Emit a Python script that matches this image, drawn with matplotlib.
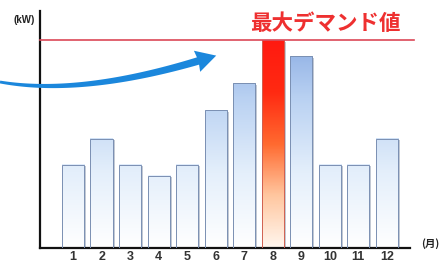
import matplotlib
matplotlib.use("Agg")
import matplotlib.pyplot as plt
import numpy as np
from matplotlib.patches import Rectangle, Polygon
from matplotlib.colors import LinearSegmentedColormap

plt.rcParams["font.family"] = ["Noto Sans CJK JP", "DejaVu Sans"]

# ── data (kW, arbitrary units) ───────────────────────────────────────────────
months = [1, 2, 3, 4, 5, 6, 7, 8, 9, 10, 11, 12]
month_labels = ["1", "2", "3", "4", "5", "6", "7", "8", "9", "10", "11", "12"]
demand = [83, 109, 83, 72, 83, 137, 164, 207, 191, 83, 83, 109]
peak_month = 8
peak_value = 207
y_max = 236

W, H = 448, 263
fig = plt.figure(figsize=(W / 100, H / 100), dpi=100)
ax = fig.add_axes([40 / W, 1 - 248 / H, 370 / W, 237 / H])
ax.set_xlim(-0.16, 12.81)
ax.set_ylim(0, y_max)

blue_cmap = LinearSegmentedColormap.from_list(
    "b", ["#ffffff", "#e4effb", "#b9d1f2", "#7fa3df"])
red_cmap = LinearSegmentedColormap.from_list(
    "r", ["#fff6ee", "#ffc7a0", "#ff6a30", "#ff2a12", "#ff1a10"])

bw = 0.78
for m, v in zip(months, demand):
    # shadow on the right
    ax.add_patch(Rectangle((m - bw / 2 + 0.07, 0), bw, v - 1.5,
                           facecolor="#9aa6b8", edgecolor="none", alpha=0.6,
                           zorder=1))
    if m == peak_month:
        grad = np.linspace(0, 1, 200).reshape(-1, 1)
        cmap = red_cmap
    else:
        top = v / y_max * 1.05
        grad = np.linspace(0, top, 200).reshape(-1, 1)
        cmap = blue_cmap
    ax.imshow(grad, extent=[m - bw / 2, m + bw / 2, 0, v], origin="lower",
              aspect="auto", cmap=cmap, vmin=0, vmax=1, zorder=2,
              interpolation="bilinear")
    ax.add_patch(Rectangle((m - bw / 2, 0), bw, v, facecolor="none",
                           edgecolor="#7a8fb2" if m != peak_month else "#d06050",
                           linewidth=0.7, zorder=3))

# peak demand line
ax.plot([-0.16, 12.95], [peak_value, peak_value], color="#dc4858",
        linewidth=1.2, clip_on=False, zorder=4)

for s in ["top", "right"]:
    ax.spines[s].set_visible(False)
for s in ["left", "bottom"]:
    ax.spines[s].set_linewidth(1.6)
    ax.spines[s].set_color("#111111")
ax.set_yticks([])
ax.set_xticks(months)
ax.set_xticklabels(month_labels, fontsize=9, color="#333333",
                   family=["Liberation Sans", "DejaVu Sans"], fontweight="bold")
ax.tick_params(axis="x", length=0, pad=2)

fig.text(24 / W, 1 - 20 / H, "(kW)", fontsize=7, fontweight="bold",
         color="#222222", ha="center", va="center",
         family=["Liberation Sans", "DejaVu Sans"])
fig.text(430 / W, 1 - 244 / H, "(月)", fontsize=7.5, fontweight="bold",
         color="#222222", ha="center", va="center")
fig.text(325 / W, 1 - 24 / H, "最大デマンド値", fontsize=15.5,
         fontweight="bold", color="#ee3030", ha="center", va="center")

# curved blue arrow (pixel coords, y down)
p0, p1, p2 = np.array([0, 82]), np.array([80, 96]), np.array([198, 61])
t = np.linspace(0, 1, 80)
pts = ((1 - t)[:, None] ** 2) * p0 + (2 * (1 - t) * t)[:, None] * p1 + (t[:, None] ** 2) * p2
d = 2 * (1 - t)[:, None] * (p1 - p0) + 2 * t[:, None] * (p2 - p1)
d = d / np.linalg.norm(d, axis=1)[:, None]
nrm = np.stack([-d[:, 1], d[:, 0]], axis=1)
half = 1.4 + 2.4 * t
upper = pts + nrm * half[:, None]
lower = pts - nrm * half[:, None]
dir_end = d[-1]
n_end = nrm[-1]
tip = p2 + dir_end * 19
barb1 = p2 + n_end * 11 - dir_end * 1
barb2 = p2 - n_end * 11 - dir_end * 1
poly = np.vstack([upper, [barb1], [tip], [barb2], lower[::-1]])
poly_fig = np.column_stack([poly[:, 0] / W, 1 - poly[:, 1] / H])
fig.add_artist(Polygon(poly_fig, closed=True, transform=fig.transFigure,
                       facecolor="#1b87dc", edgecolor="none", zorder=10))

fig.savefig("out.png", dpi=100)
